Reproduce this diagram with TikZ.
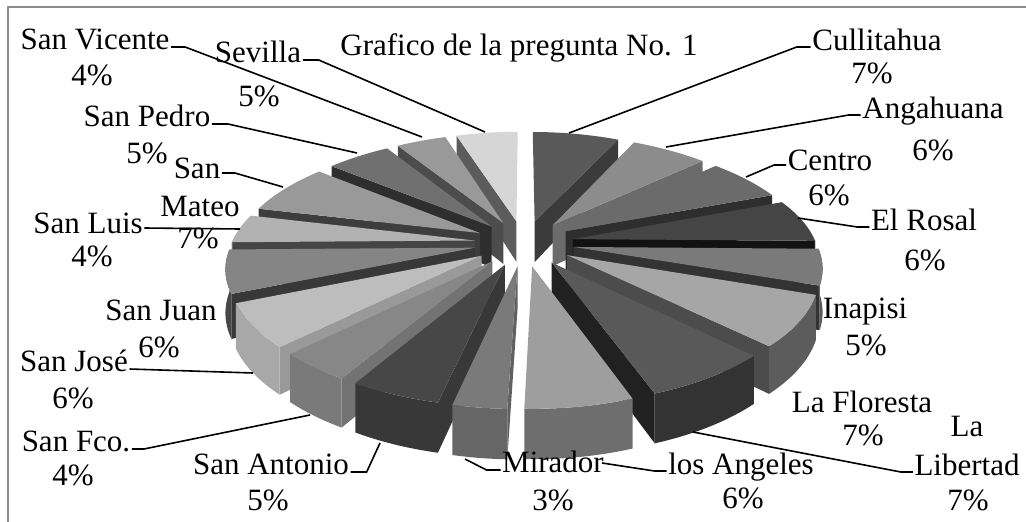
\documentclass[tikz,border=0pt]{standalone}
\usepackage{fontspec}
\setmainfont{Liberation Serif}
\usepackage{xcolor}
\usepackage{tikz}
\tikzset{
    lbl/.style={
        font=\fontsize{31}{37}\selectfont,
        inner sep=1.5pt,
        anchor=base
    },
    leader/.style={
        draw=black,
        line width=1.6pt
    },
    frame/.style={
        draw=black!45,
        line width=2pt
    }
}

\begin{document}
\begin{tikzpicture}[x=1pt, y=-1pt,
    declare function={
        scrx(\X,\Y)=524+\X*(243-41*\Y);
        scry(\X,\Y,\Z)=243-110.7*\Y/(1+0.164*\Y)+\Z*(42-7*\Y);
    }]
\useasboundingbox (0,0) rectangle (1026,522);

% Frame (cut at right and bottom)
\draw[frame] (8,522) -- (8,7) -- (1026,7);

% Exploded 3D pie, back slices first
% lo/hi = angles, then grey of top, outer side, radial wall
\foreach \lo/\hi/\gt/\gs/\gw in {
    -270/-251.8/0.84/0.50/0.36,  % Sevilla
    64.5/90/0.35/0.25/0.23,      % Cullitahua
    -251.8/-237.3/0.60/0.40/0.30,% San Vicente
    42.7/64.5/0.55/0.45/0.42,    % Angahuana
    -237.3/-219.1/0.44/0.30/0.18,% San Pedro
    20.9/42.7/0.42/0.30/0.18,    % Centro
    -219.1/-193.6/0.60/0.40/0.24,% San Mateo
    -0.9/20.9/0.27/0.20/0.07,    % El Rosal
    -193.6/-179.1/0.70/0.50/0.27,% San Luis
    -19.1/-0.9/0.48/0.35/0.20,   % Inapisi
    -179.1/-157.3/0.52/0.28/0.22,% San Juan
    -44.5/-19.1/0.65/0.36/0.30,  % La Floresta
    -157.3/-135.5/0.74/0.66/0.60,% San Jose
    -135.5/-120.9/0.53/0.48/0.45,% San Fco.
    -70/-44.5/0.35/0.20/0.13,    % La Libertad
    -120.9/-102.7/0.28/0.22/0.22,% San Antonio
    -91.8/-70/0.62/0.43/0.45,    % los Angeles
    -102.7/-91.8/0.48/0.40/0.38% Mirador
}{
    \pgfmathsetmacro\md{(\lo+\hi)/2}
    \pgfmathsetmacro\ox{0.205*cos(\md)}
    \pgfmathsetmacro\oy{0.205*sin(\md)}
    \definecolor{ctop}{gray}{\gt}
    \definecolor{cside}{gray}{\gs}
    \definecolor{cwall}{gray}{\gw}
    % radial walls facing the viewer
    \pgfmathtruncatemacro\wa{cos(\hi)<(-0.01)}
    \pgfmathtruncatemacro\wb{cos(\lo)>0.01}
    \ifnum\wa=1
        \fill[cwall] ({scrx(\ox,\oy)},{scry(\ox,\oy,0)})
            -- ({scrx(cos(\hi)+\ox,sin(\hi)+\oy)},{scry(cos(\hi)+\ox,sin(\hi)+\oy,0)})
            -- ({scrx(cos(\hi)+\ox,sin(\hi)+\oy)},{scry(cos(\hi)+\ox,sin(\hi)+\oy,1)})
            -- ({scrx(\ox,\oy)},{scry(\ox,\oy,1)}) -- cycle;
    \fi
    \ifnum\wb=1
        \fill[cwall] ({scrx(\ox,\oy)},{scry(\ox,\oy,0)})
            -- ({scrx(cos(\lo)+\ox,sin(\lo)+\oy)},{scry(cos(\lo)+\ox,sin(\lo)+\oy,0)})
            -- ({scrx(cos(\lo)+\ox,sin(\lo)+\oy)},{scry(cos(\lo)+\ox,sin(\lo)+\oy,1)})
            -- ({scrx(\ox,\oy)},{scry(\ox,\oy,1)}) -- cycle;
    \fi
    % outer side (front half only)
    \pgfmathsetmacro\sa{max(\lo,-180)}
    \pgfmathsetmacro\sb{min(\hi,0)}
    \ifdim\sa pt<\sb pt
        \fill[cside] plot[variable=\t, domain=\sa:\sb, samples=16]
                ({scrx(cos(\t)+\ox,sin(\t)+\oy)},{scry(cos(\t)+\ox,sin(\t)+\oy,0)})
            -- plot[variable=\t, domain=\sb:\sa, samples=16]
                ({scrx(cos(\t)+\ox,sin(\t)+\oy)},{scry(cos(\t)+\ox,sin(\t)+\oy,1)})
            -- cycle;
    \fi
    % top face
    \fill[ctop] ({scrx(\ox,\oy)},{scry(\ox,\oy,0)})
        -- plot[variable=\t, domain=\lo:\hi, samples=24]
            ({scrx(cos(\t)+\ox,sin(\t)+\oy)},{scry(cos(\t)+\ox,sin(\t)+\oy,0)})
        -- cycle;
}

% Title
\node[lbl] (title) at (519,55) {Grafico de la pregunta No. 1};

% Labels, right side
\node[lbl] (cul) at (877,50) {Cullitahua};
\node[lbl] (culp) at (872,83) {7\%};
\node[lbl] (anga) at (933,118) {Angahuana};
\node[lbl] (angap) at (933,160) {6\%};
\node[lbl] (cen) at (830,170) {Centro};
\node[lbl] (cenp) at (829,205) {6\%};
\node[lbl] (ros) at (924,230) {El Rosal};
\node[lbl] (rosp) at (925,270) {6\%};
\node[lbl] (ina) at (865,318) {Inapisi};
\node[lbl] (inap) at (866,355) {5\%};
\node[lbl] (flo) at (862,412) {La Floresta};
\node[lbl] (flop) at (863,445) {7\%};
\node[lbl] (lib1) at (967,436) {La};
\node[lbl] (lib2) at (967,475) {Libertad};
\node[lbl] (libp) at (968,510) {7\%};
\node[lbl] (ang) at (741,474) {los Angeles};
\node[lbl] (angp) at (743,508) {6\%};
\node[lbl] (mir) at (553,472) {Mirador};
\node[lbl] (mirp) at (553,510) {3\%};

% Labels, left side
\node[lbl] (ant) at (271,474) {San Antonio};
\node[lbl] (antp) at (268,510) {5\%};
\node[lbl] (fco) at (76,451) {San Fco.};
\node[lbl] (fcop) at (73,485) {4\%};
\node[lbl] (jose) at (74,371) {San José};
\node[lbl] (josep) at (73,408) {6\%};
\node[lbl] (juan) at (161,320) {San Juan};
\node[lbl] (juanp) at (159,357) {6\%};
\node[lbl] (luis) at (88,233) {San Luis};
\node[lbl] (luisp) at (92,266) {4\%};
\node[lbl] (mat1) at (197,178) {San};
\node[lbl] (mat2) at (200,216) {Mateo};
\node[lbl] (matp) at (198,248) {7\%};
\node[lbl] (ped) at (147,126) {San Pedro};
\node[lbl] (pedp) at (147,163) {5\%};
\node[lbl] (vic) at (95,49) {San Vicente};
\node[lbl] (vicp) at (92,85) {4\%};
\node[lbl] (sev) at (258,62) {Sevilla};
\node[lbl] (sevp) at (259,106) {5\%};

% Leader ends on the slices
\coordinate (culEnd) at (569,133);
\coordinate (angaEnd) at (666,147);
\coordinate (cenEnd) at (746,177);
\coordinate (rosEnd) at (798,218);
\coordinate (libEnd) at (693,432);
\coordinate (angEnd) at (602,463);
\coordinate (mirEnd) at (465,459);
\coordinate (antEnd) at (380,443);
\coordinate (fcoEnd) at (310,415);
\coordinate (joseEnd) at (253,373);
\coordinate (luisEnd) at (240,229);
\coordinate (matEnd) at (283,187);
\coordinate (pedEnd) at (357,153);
\coordinate (vicEnd) at (422,137);
\coordinate (sevEnd) at (485,132);

% Leaders
\draw[leader] ([yshift=3pt]cul.base west) -- ++(-14,0) -- (culEnd);
\draw[leader] ([yshift=3pt]anga.base west) -- ++(-12,0) -- (angaEnd);
\draw[leader] ([yshift=5pt]cen.base west) -- ++(-12,0) -- (cenEnd);
\draw[leader] ([yshift=3pt]ros.base west) -- ++(-12,0) -- (rosEnd);
\draw[leader] ([yshift=3pt]lib2.base west) -- ++(-12,0) -- (libEnd);
\draw[leader] ([yshift=3pt]ang.base west) -- ++(-12,0) -- (angEnd);
\draw[leader] ([yshift=2pt]mir.base west) -- ++(-14,0) -- (mirEnd);
\draw[leader] ([yshift=2pt]ant.base east) -- ++(16,0) -- (antEnd);
\draw[leader] ([yshift=2pt]fco.base east) -- ++(12,0) -- (fcoEnd);
\draw[leader] ([yshift=2pt]jose.base east) -- (joseEnd);
\draw[leader] ([yshift=5pt]luis.base east) -- (luisEnd);
\draw[leader] ([yshift=5pt]mat1.base east) -- ++(13,0) -- (matEnd);
\draw[leader] ([yshift=2pt]ped.base east) -- ++(16,0) -- (pedEnd);
\draw[leader] ([yshift=2pt]vic.base east) -- ++(14,0) -- (vicEnd);
\draw[leader] ([yshift=2pt]sev.base east) -- ++(16,0) -- (sevEnd);

\end{tikzpicture}
\end{document}
